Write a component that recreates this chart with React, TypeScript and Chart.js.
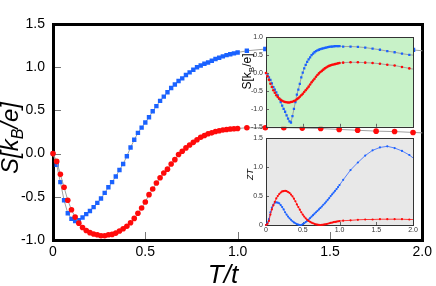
import React, { useEffect, useRef } from "react";
import { Chart, registerables } from "chart.js";
Chart.register(...registerables);

const FONT = '"Liberation Sans", Arial, Helvetica, sans-serif';

// ---- x grid (dense 0..1, then sparse) ----
const X_DENSE = [0, 0.02, 0.04, 0.06, 0.08, 0.1, 0.12, 0.14, 0.16, 0.18, 0.2, 0.22, 0.24, 0.26, 0.28, 0.3, 0.32, 0.34, 0.36, 0.38, 0.4, 0.42, 0.44, 0.46, 0.48, 0.5, 0.52, 0.54, 0.56, 0.58, 0.6, 0.62, 0.64, 0.66, 0.68, 0.7, 0.72, 0.74, 0.76, 0.78, 0.8, 0.82, 0.84, 0.86, 0.88, 0.9, 0.92, 0.94, 0.96, 0.98, 1.0];
const X_SPARSE = [1.05, 1.15, 1.25, 1.35, 1.45, 1.55, 1.65, 1.75, 1.85, 1.95, 2.0];

// ---- main panel: S[kB/e] ----
const MAIN_BLUE_DENSE = [0, -0.13, -0.33, -0.54, -0.69, -0.755, -0.78, -0.77, -0.74, -0.7, -0.665, -0.62, -0.57, -0.52, -0.455, -0.39, -0.33, -0.265, -0.19, -0.12, -0.03, 0.07, 0.16, 0.24, 0.3, 0.36, 0.42, 0.49, 0.55, 0.61, 0.66, 0.71, 0.76, 0.8, 0.84, 0.87, 0.91, 0.94, 0.97, 1.0, 1.02, 1.04, 1.055, 1.075, 1.095, 1.11, 1.125, 1.14, 1.15, 1.16, 1.17];
const MAIN_BLUE_SPARSE = [1.19, 1.21, 1.22, 1.23, 1.23, 1.23, 1.22, 1.22, 1.21, 1.2, 1.19];
const MAIN_RED_DENSE = [0, -0.09, -0.24, -0.39, -0.54, -0.65, -0.735, -0.805, -0.855, -0.89, -0.915, -0.93, -0.94, -0.95, -0.95, -0.94, -0.935, -0.92, -0.895, -0.87, -0.84, -0.8, -0.75, -0.69, -0.63, -0.56, -0.475, -0.41, -0.34, -0.28, -0.225, -0.18, -0.12, -0.07, -0.01, 0.027, 0.066, 0.1, 0.13, 0.16, 0.19, 0.21, 0.23, 0.24, 0.255, 0.265, 0.274, 0.279, 0.284, 0.288, 0.29];
const MAIN_RED_SPARSE = [0.3, 0.3, 0.3, 0.295, 0.29, 0.28, 0.27, 0.26, 0.255, 0.245, 0.24];

// ---- inset 1: S[kB/e] ----
const S_BLUE_DENSE = [0, -0.06, -0.12, -0.19, -0.29, -0.39, -0.46, -0.54, -0.62, -0.72, -0.81, -0.91, -1.0, -1.08, -1.18, -1.27, -1.35, -1.38, -1.2, -1.0, -0.81, -0.6, -0.46, -0.3, -0.12, 0.01, 0.13, 0.23, 0.31, 0.38, 0.44, 0.5, 0.54, 0.58, 0.61, 0.63, 0.65, 0.67, 0.68, 0.69, 0.7, 0.71, 0.72, 0.73, 0.735, 0.74, 0.745, 0.75, 0.75, 0.75, 0.75];
const S_BLUE_SPARSE = [0.74, 0.74, 0.73, 0.71, 0.68, 0.65, 0.61, 0.58, 0.54, 0.51, 0.5];
const S_RED_DENSE = [0, -0.09, -0.19, -0.3, -0.39, -0.48, -0.55, -0.62, -0.67, -0.71, -0.75, -0.775, -0.795, -0.81, -0.815, -0.82, -0.82, -0.81, -0.8, -0.78, -0.765, -0.73, -0.7, -0.66, -0.62, -0.58, -0.53, -0.48, -0.43, -0.38, -0.32, -0.26, -0.21, -0.16, -0.105, -0.055, -0.01, 0.03, 0.06, 0.095, 0.13, 0.155, 0.18, 0.2, 0.215, 0.23, 0.24, 0.25, 0.26, 0.27, 0.28];
const S_RED_SPARSE = [0.29, 0.3, 0.3, 0.29, 0.28, 0.26, 0.23, 0.21, 0.17, 0.13, 0.11];

// ---- inset 2: ZT ----
const ZT_BLUE_DENSE = [0, 0.04, 0.1, 0.22, 0.3, 0.35, 0.385, 0.39, 0.385, 0.375, 0.345, 0.31, 0.27, 0.22, 0.18, 0.145, 0.115, 0.09, 0.065, 0.045, 0.03, 0.015, 0.005, 0, 0, 0.015, 0.03, 0.05, 0.07, 0.095, 0.12, 0.145, 0.17, 0.195, 0.22, 0.245, 0.27, 0.295, 0.32, 0.35, 0.375, 0.405, 0.435, 0.465, 0.5, 0.53, 0.56, 0.59, 0.62, 0.655, 0.69];
const ZT_BLUE_SPARSE = [0.78, 0.95, 1.08, 1.2, 1.29, 1.34, 1.36, 1.33, 1.28, 1.21, 1.16];
const ZT_RED_DENSE = [0, 0.02, 0.07, 0.18, 0.27, 0.34, 0.4, 0.46, 0.5, 0.535, 0.56, 0.58, 0.585, 0.59, 0.585, 0.57, 0.555, 0.525, 0.495, 0.455, 0.41, 0.355, 0.31, 0.265, 0.22, 0.18, 0.145, 0.115, 0.09, 0.07, 0.055, 0.04, 0.03, 0.018, 0.01, 0.005, 0.002, 0, 0.002, 0.006, 0.01, 0.016, 0.022, 0.03, 0.036, 0.042, 0.048, 0.053, 0.058, 0.063, 0.068];
const ZT_RED_SPARSE = [0.075, 0.08, 0.09, 0.095, 0.095, 0.1, 0.1, 0.1, 0.1, 0.095, 0.095];

// ---- ticks ----
const MAIN_X_TICKS = [0, 0.5, 1, 1.5, 2];
const MAIN_X_LABELS = ["0", "0.5", "1.0", "1.5", "2.0"];
const MAIN_Y_TICKS = [-1, -0.5, 0, 0.5, 1, 1.5];
const MAIN_Y_LABELS = ["-1.0", "-0.5", "0.0", "0.5", "1.0", "1.5"];
const S_Y_TICKS = [-1.5, -1, -0.5, 0, 0.5, 1];
const S_Y_LABELS = ["-1.5", "-1.0", "-0.5", "0.0", "0.5", "1.0"];
const INSET_X_TICKS = [0, 0.5, 1, 1.5, 2];
const INSET_X_LABELS = ["0", "0.5", "1.0", "1.5", "2.0"];
const ZT_Y_TICKS = [0, 0.5, 1, 1.5];
const ZT_Y_LABELS = ["0", "0.5", "1.0", "1.5"];

const BLUE = "#1a62ff";
const RED = "#ff0a0a";
const GRAY_LINE = "#a0a0a0";

function pts(dense: number[], sparse: number[]) {
  const xs = [...X_DENSE, ...X_SPARSE];
  const ys = [...dense, ...sparse];
  return xs.map((x, i) => ({ x, y: ys[i] }));
}

function ds(data: any[], color: string, style: string, r: number, line: string, lw: number) {
  return {
    data,
    borderColor: line,
    borderWidth: lw,
    backgroundColor: color,
    pointBackgroundColor: color,
    pointBorderColor: color,
    pointBorderWidth: 0,
    pointStyle: style,
    pointRadius: (c: any) => (c.raw && c.raw.x >= 2 ? 0 : r),
    tension: 0,
    clip: 6,
    showLine: true,
  };
}

function axis(min: number, max: number, ticks: number[], labels: string[], size: number, pad: number, prop: string, val: number, show = true, color = "#000") {
  return {
    type: "linear",
    min,
    max,
    grid: { display: false, drawTicks: false },
    border: { display: false },
    afterBuildTicks: (s: any) => {
      s.ticks = ticks.map((v) => ({ value: v }));
    },
    afterFit: (s: any) => {
      s[prop] = val;
    },
    ticks: {
      display: show,
      autoSkip: false,
      maxRotation: 0,
      minRotation: 0,
      padding: pad,
      color,
      font: { family: FONT, size },
      callback: (v: any) => {
        const i = ticks.findIndex((t) => Math.abs(t - Number(v)) < 1e-9);
        return i >= 0 ? labels[i] : "";
      },
    },
  };
}

type Part = { t: string; f: string; dy: number };
function drawParts(ctx: CanvasRenderingContext2D, parts: Part[], x: number, y: number, rotate: boolean) {
  ctx.save();
  ctx.translate(x, y);
  if (rotate) ctx.rotate(-Math.PI / 2);
  ctx.textAlign = "left";
  ctx.textBaseline = "alphabetic";
  ctx.fillStyle = "#000";
  let total = 0;
  const ws = parts.map((p) => {
    ctx.font = p.f;
    const w = ctx.measureText(p.t).width;
    total += w;
    return w;
  });
  let cx = -total / 2;
  parts.forEach((p, i) => {
    ctx.font = p.f;
    ctx.fillText(p.t, cx, p.dy);
    cx += ws[i];
  });
  ctx.restore();
}

function framePlugin(o: { bg?: string; border: string; bw: number; tick: number; tickColor: string; titles: (ctx: CanvasRenderingContext2D) => void }) {
  return {
    id: "frame",
    beforeDraw(chart: any) {
      const { ctx, chartArea: a } = chart;
      if (o.bg) {
        ctx.save();
        ctx.fillStyle = o.bg;
        ctx.fillRect(a.left, a.top, a.right - a.left, a.bottom - a.top);
        ctx.restore();
      }
    },
    beforeDatasetsDraw(chart: any) {
      const { ctx, chartArea: a, scales } = chart;
      ctx.save();
      ctx.strokeStyle = o.tickColor;
      ctx.lineWidth = 1;
      ctx.beginPath();
      scales.x.ticks.forEach((t: any) => {
        const px = Math.round(scales.x.getPixelForValue(t.value)) + 0.5;
        ctx.moveTo(px, a.bottom);
        ctx.lineTo(px, a.bottom - o.tick);
      });
      scales.y.ticks.forEach((t: any) => {
        const py = Math.round(scales.y.getPixelForValue(t.value)) + 0.5;
        ctx.moveTo(a.left, py);
        ctx.lineTo(a.left + o.tick, py);
      });
      ctx.stroke();
      const off = o.bw % 2 ? 0.5 : 0;
      ctx.strokeStyle = o.border;
      ctx.lineWidth = o.bw;
      ctx.strokeRect(Math.round(a.left) + off, Math.round(a.top) + off, Math.round(a.right - a.left), Math.round(a.bottom - a.top));
      ctx.restore();
    },
    afterDraw(chart: any) {
      o.titles(chart.ctx);
    },
  };
}

const baseOpts = (padding: any) => ({
  responsive: false,
  maintainAspectRatio: false,
  animation: false,
  devicePixelRatio: 1,
  events: [],
  layout: { padding },
  plugins: { legend: { display: false }, tooltip: { enabled: false } },
});

export default function App() {
  const mainRef = useRef<HTMLCanvasElement>(null);
  const topRef = useRef<HTMLCanvasElement>(null);
  const botRef = useRef<HTMLCanvasElement>(null);

  useEffect(() => {
    Chart.defaults.font.family = FONT;
    const charts: Chart[] = [];

    charts.push(
      new Chart(mainRef.current!, {
        type: "line",
        data: {
          datasets: [
            ds(pts(MAIN_RED_DENSE, MAIN_RED_SPARSE), RED, "circle", 2.8, GRAY_LINE, 1),
            ds(pts(MAIN_BLUE_DENSE, MAIN_BLUE_SPARSE), BLUE, "rect", 3.1, GRAY_LINE, 1),
          ] as any,
        },
        options: {
          ...baseOpts({ left: 0, top: 24, right: 9, bottom: 0 }),
          scales: {
            x: axis(0, 2, MAIN_X_TICKS, MAIN_X_LABELS, 14, 4, "height", 46),
            y: axis(-1, 1.5, MAIN_Y_TICKS, MAIN_Y_LABELS, 14, 8, "width", 53),
          },
        } as any,
        plugins: [
          framePlugin({
            border: "#000",
            bw: 3,
            tick: 8,
            tickColor: "#777",
            titles: (ctx) => {
              drawParts(
                ctx,
                [
                  { t: "S[k", f: `italic 24px ${FONT}`, dy: 0 },
                  { t: "B", f: `italic 16px ${FONT}`, dy: 5 },
                  { t: "/e]", f: `italic 24px ${FONT}`, dy: 0 },
                ],
                18,
                138,
                true
              );
              drawParts(ctx, [{ t: "T/t", f: `italic 26px ${FONT}`, dy: 0 }], 223, 283, false);
            },
          }),
        ] as any,
      })
    );

    charts.push(
      new Chart(topRef.current!, {
        type: "line",
        data: {
          datasets: [
            ds(pts(S_RED_DENSE, S_RED_SPARSE), RED, "circle", 1.3, GRAY_LINE, 1),
            ds(pts(S_BLUE_DENSE, S_BLUE_SPARSE), BLUE, "rect", 1.6, GRAY_LINE, 1),
          ] as any,
        },
        options: {
          ...baseOpts({ left: 0, top: 5, right: 13, bottom: 0 }),
          scales: {
            x: axis(0, 2, INSET_X_TICKS, INSET_X_LABELS, 7, 1, "height", 6, false, "#333"),
            y: axis(-1.5, 1, S_Y_TICKS, S_Y_LABELS, 7, 3, "width", 30, true, "#333"),
          },
        } as any,
        plugins: [
          framePlugin({
            bg: "#c8f2c8",
            border: "#333",
            bw: 1,
            tick: 3,
            tickColor: "#666",
            titles: (ctx) => {
              drawParts(
                ctx,
                [
                  { t: "S[k", f: `12px ${FONT}`, dy: 0 },
                  { t: "B", f: `8px ${FONT}`, dy: 3 },
                  { t: "/e]", f: `12px ${FONT}`, dy: 0 },
                ],
                15,
                41.5,
                true
              );
            },
          }),
        ] as any,
      })
    );

    charts.push(
      new Chart(botRef.current!, {
        type: "line",
        data: {
          datasets: [
            ds(pts(ZT_RED_DENSE, ZT_RED_SPARSE), RED, "circle", 1.1, "rgba(255,30,30,0.85)", 1),
            ds(pts(ZT_BLUE_DENSE, ZT_BLUE_SPARSE), BLUE, "circle", 1.1, "rgba(40,95,255,0.75)", 1),
          ] as any,
        },
        options: {
          ...baseOpts({ left: 0, top: 5, right: 13, bottom: 0 }),
          scales: {
            x: axis(0, 2, INSET_X_TICKS, INSET_X_LABELS, 7, 1, "height", 11, true, "#333"),
            y: axis(0, 1.5, ZT_Y_TICKS, ZT_Y_LABELS, 7, 3, "width", 30, true, "#333"),
          },
        } as any,
        plugins: [
          framePlugin({
            bg: "#e8e8e8",
            border: "#333",
            bw: 1,
            tick: 3,
            tickColor: "#666",
            titles: (ctx) => {
              drawParts(ctx, [{ t: "ZT", f: `italic 9px ${FONT}`, dy: 0 }], 16.5, 43.5, true);
            },
          }),
        ] as any,
      })
    );

    return () => charts.forEach((c) => c.destroy());
  }, []);

  return (
    <div style={{ position: "fixed", left: 0, top: 0, width: 436, height: 286, background: "#fff", overflow: "hidden" }}>
      <canvas ref={mainRef} width={436} height={286} style={{ position: "absolute", left: 0, top: 0, width: 436, height: 286 }} />
      <canvas ref={topRef} width={190} height={104} style={{ position: "absolute", left: 236, top: 30, width: 190, height: 104 }} />
      <canvas ref={botRef} width={190} height={105} style={{ position: "absolute", left: 236, top: 131, width: 190, height: 105 }} />
    </div>
  );
}
